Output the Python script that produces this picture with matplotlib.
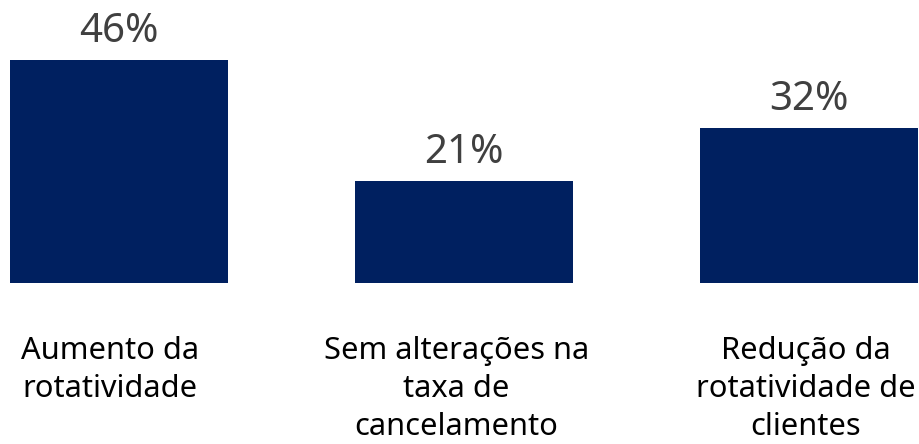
import matplotlib
matplotlib.use("Agg")
import matplotlib.pyplot as plt

categories = ["Aumento da\nrotatividade", "Sem alterações na\ntaxa de\ncancelamento", "Redução da\nrotatividade de\nclientes"]
values = [46, 21, 32]
value_labels = ["46%", "21%", "32%"]

plt.rcParams['font.family'] = ['Noto Sans', 'DejaVu Sans']

fig = plt.figure(figsize=(9.2, 4.44), dpi=100)
ax = fig.add_axes([0, 0, 1, 1])
x = list(range(len(categories)))
ax.bar(x, values, width=0.632, color="#002060")
ax.set_xlim(-119/345, (920-119)/345)
ax.set_ylim(-161/4.84, 283/4.84)
ax.axis("off")

for xi, v, lab in zip(x, values, value_labels):
    ax.annotate(lab, (xi, v), xytext=(0, 13), textcoords="offset points",
                ha="center", va="baseline", fontsize=29, color="#404040")

label_dx = [-6.5, -5.4, -2.2]
for xi, c, dx in zip(x, categories, label_dx):
    ax.annotate(c, (xi, 0), xytext=(dx, -38), textcoords="offset points",
                ha="center", va="top", fontsize=22.2, color="black", linespacing=1.36)

fig.savefig("out.png", dpi=100)
